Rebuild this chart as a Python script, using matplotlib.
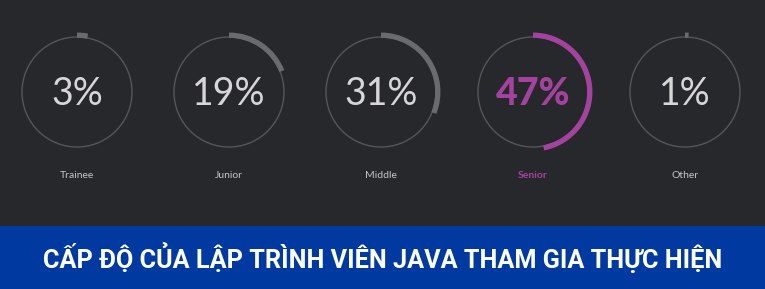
import matplotlib.pyplot as plt
from matplotlib.patches import Circle, Arc, Rectangle

# dữ liệu
categories = ['Trainee', 'Junior', 'Middle', 'Senior', 'Other']
values = [3, 19, 31, 47, 1]
highlight = 'Senior'
title = 'CẤP ĐỘ CỦA LẬP TRÌNH VIÊN JAVA THAM GIA THỰC HIỆN'

W, H = 765, 289
bg = '#27282c'
ring = '#55565a'
arc_gray = '#6a6b6e'
magenta = '#a4429f'
txt = '#d6d6d8'
blue = '#0039a0'

fig = plt.figure(figsize=(W / 100, H / 100), dpi=100, facecolor=bg)
ax = fig.add_axes([0, 0, 1, 1])
ax.set_xlim(0, W)
ax.set_ylim(H, 0)
ax.axis('off')
ax.set_facecolor(bg)

x0, step, cy = 77, 152, 92
r_ring, r_arc = 55, 56.8

for i, (cat, v) in enumerate(zip(categories, values)):
    cx = x0 + i * step
    hl = cat == highlight
    ax.add_patch(Circle((cx, cy), r_ring, fill=False, ec=ring, lw=1.0))
    ax.add_patch(Arc((cx, cy), 2 * r_arc, 2 * r_arc, theta1=-90,
                     theta2=-90 + 360 * v / 100,
                     color=magenta if hl else arc_gray, lw=3.8, capstyle='butt'))
    ax.text(cx, cy + 2, f'{v}%', ha='center', va='center',
            fontsize=27, family='Lato',
            fontweight='black' if hl else 'normal',
            color=magenta if hl else txt)
    ax.text(cx, 175, cat, ha='center', va='center', fontsize=7.5,
            family='Lato', fontweight='bold' if hl else 'normal',
            color=magenta if hl else '#c4c4c6')

ax.add_patch(Rectangle((0, 226), W, H - 226, color=blue, lw=0))
ax.text(W / 2 + 0.5, 257.5, title, ha='center', va='center', fontsize=18.2,
        family='Roboto', fontweight='bold', color='white')

fig.savefig('out.png', dpi=100, facecolor=bg)
